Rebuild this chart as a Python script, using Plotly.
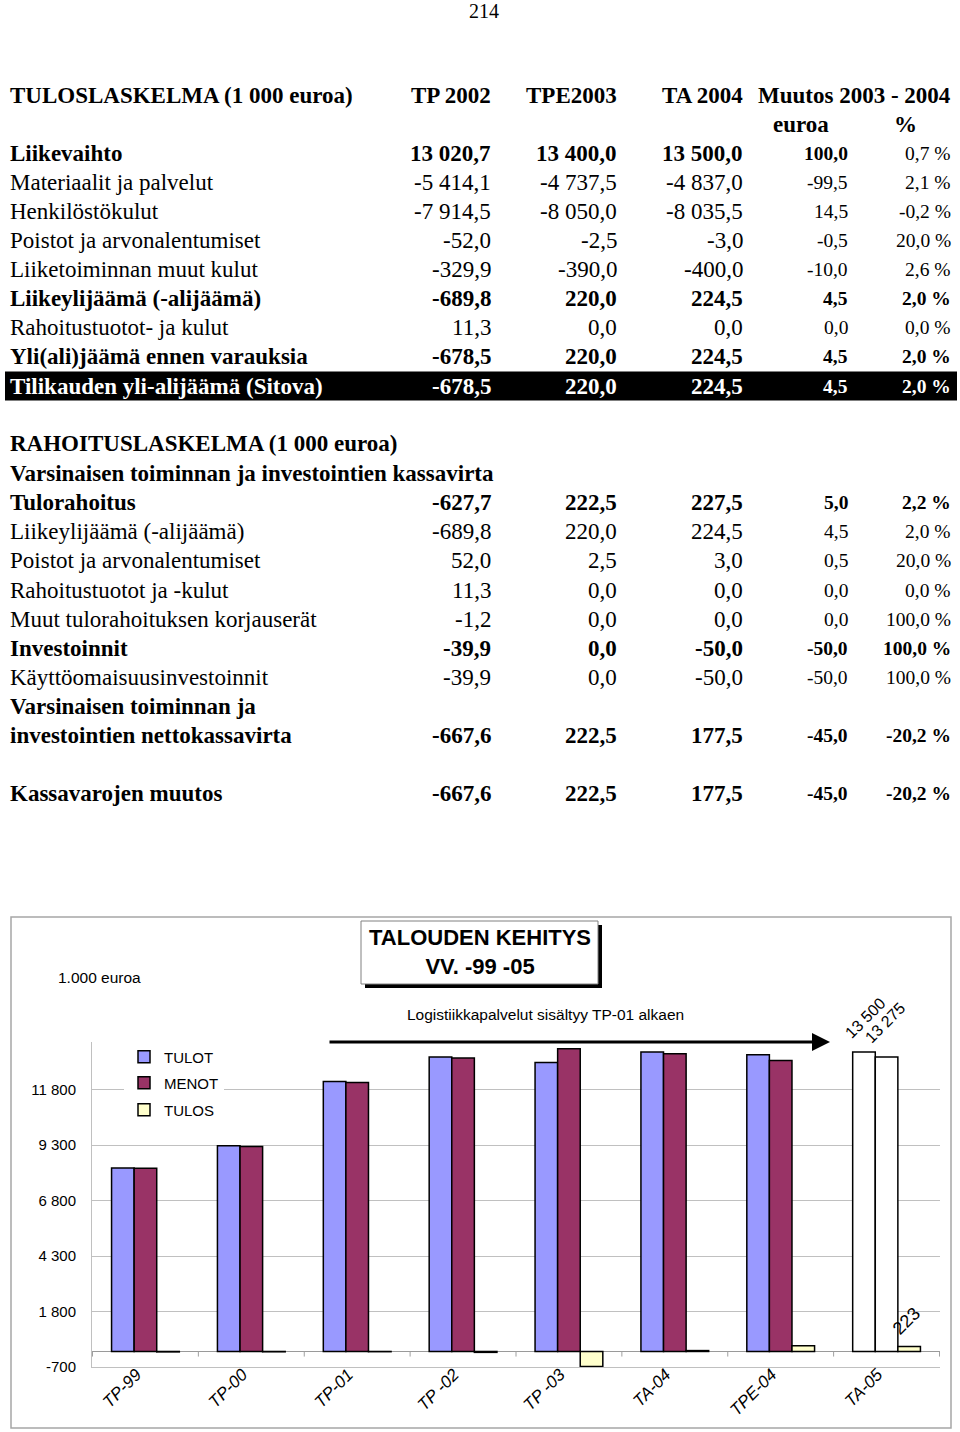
import plotly.graph_objects as go

W, H = 960, 1432

# ------------------------------------------------------------------ data
page_number = "214"

tulos_title = "TULOSLASKELMA (1 000 euroa)"
rahoitus_title = "RAHOITUSLASKELMA (1 000 euroa)"
rahoitus_subtitle = "Varsinaisen toiminnan ja investointien kassavirta"
col_headers = ["TP 2002", "TPE2003", "TA 2004"]
change_header = "Muutos 2003 - 2004"
change_sub = ["euroa", "%"]

tulos_labels = ["Liikevaihto", "Materiaalit ja palvelut", "Henkilöstökulut",
                "Poistot ja arvonalentumiset", "Liiketoiminnan muut kulut",
                "Liikeylijäämä (-alijäämä)", "Rahoitustuotot- ja kulut",
                "Yli(ali)jäämä ennen varauksia", "Tilikauden yli-alijäämä (Sitova)"]
tulos_tp2002 = [13020.7, -5414.1, -7914.5, -52.0, -329.9, -689.8, 11.3, -678.5, -678.5]
tulos_tpe2003 = [13400.0, -4737.5, -8050.0, -2.5, -390.0, 220.0, 0.0, 220.0, 220.0]
tulos_ta2004 = [13500.0, -4837.0, -8035.5, -3.0, -400.0, 224.5, 0.0, 224.5, 224.5]
tulos_chg_eur = [100.0, -99.5, 14.5, -0.5, -10.0, 4.5, 0.0, 4.5, 4.5]
tulos_chg_pct = [0.7, 2.1, -0.2, 20.0, 2.6, 2.0, 0.0, 2.0, 2.0]
tulos_bold = [True, False, False, False, False, True, False, True, True]
tulos_pct_bold = [False, False, False, False, False, True, False, True, True]

rah_labels = ["Tulorahoitus", "Liikeylijäämä (-alijäämä)", "Poistot ja arvonalentumiset",
              "Rahoitustuotot ja -kulut", "Muut tulorahoituksen korjauserät",
              "Investoinnit", "Käyttöomaisuusinvestoinnit",
              "Varsinaisen toiminnan ja\ninvestointien nettokassavirta",
              "Kassavarojen muutos"]
rah_tp2002 = [-627.7, -689.8, 52.0, 11.3, -1.2, -39.9, -39.9, -667.6, -667.6]
rah_tpe2003 = [222.5, 220.0, 2.5, 0.0, 0.0, 0.0, 0.0, 222.5, 222.5]
rah_ta2004 = [227.5, 224.5, 3.0, 0.0, 0.0, -50.0, -50.0, 177.5, 177.5]
rah_chg_eur = [5.0, 4.5, 0.5, 0.0, 0.0, -50.0, -50.0, -45.0, -45.0]
rah_chg_pct = [2.2, 2.0, 20.0, 0.0, 100.0, 100.0, 100.0, -20.2, -20.2]
rah_bold = [True, False, False, False, False, True, False, True, True]
rah_gap_before = [False, False, False, False, False, False, False, False, True]

chart_title = "TALOUDEN KEHITYS<br>VV. -99 -05"
chart_unit = "1.000 euroa"
chart_note = "Logistiikkapalvelut sisältyy TP-01 alkaen"
chart_categories = ["TP-99", "TP-00", "TP-01", "TP -02", "TP -03", "TA-04", "TPE-04", "TA-05"]
chart_tulot = [8270, 9270, 12170, 13270, 13030, 13500, 13380, 13500]
chart_menot = [8260, 9240, 12130, 13230, 13650, 13420, 13120, 13275]
chart_tulos = [-20, -15, -10, -40, -680, 40, 260, 223]
y_ticks = [-700, 1800, 4300, 6800, 9300, 11800]

# ------------------------------------------------------------------ styles
SERIF = "Liberation Serif"
SANS = "Liberation Sans"
C_TULOT, C_MENOT, C_TULOS = "#9999FF", "#993366", "#FFFFCC"
C_FORECAST = "#FFFFFF"


def px(x):
    return x / W


def py(y):
    return 1 - y / H


def fi(v):
    return f"{v:,.1f}".replace(",", " ").replace(".", ",")


def ithousand(v):
    return f"{v:,}".replace(",", " ")


annotations = []
shapes = []


def text(x, y, s, size=23, bold=False, anchor="left", color="black", family=SERIF):
    if bold:
        s = "<b>" + s + "</b>"
    annotations.append(dict(x=px(x), y=py(y), xref="paper", yref="paper", text=s,
                            showarrow=False, xanchor=anchor, yanchor="middle",
                            font=dict(family=family, size=size, color=color)))


# column right edges
LBL_X = 8
COLS = [493, 619, 745]
EUR_X = 850
PCT_X = 953
STEP = 29.1
SMALL = 19.5


def table_row(y, label, vals, eur, pct, bold, pct_bold, color="black"):
    text(LBL_X, y, label, bold=bold, color=color)
    for cx, v in zip(COLS, vals):
        text(cx, y, fi(v), bold=bold, anchor="right", color=color)
    text(EUR_X, y, fi(eur), size=SMALL, bold=bold, anchor="right", color=color)
    text(PCT_X, y, fi(pct) + " %", size=SMALL, bold=pct_bold, anchor="right", color=color)


# page number
text(484, 11, page_number, size=20, anchor="center")

# ---- Tuloslaskelma
y = 95
text(LBL_X, y, tulos_title, bold=True)
for cx, h in zip(COLS, col_headers):
    text(cx, y, h, bold=True, anchor="right")
text(PCT_X, y, change_header, bold=True, anchor="right")
y += STEP
text(801, y, change_sub[0], bold=True, anchor="center")
text(905, y, change_sub[1], bold=True, anchor="center")
n = len(tulos_labels)
for i in range(n):
    y += STEP
    last = i == n - 1
    if last:
        shapes.append(dict(type="rect", xref="paper", yref="paper",
                           x0=px(5), x1=px(957), y0=py(y - 14.5), y1=py(y + 14.5),
                           fillcolor="black", line=dict(width=0), layer="below"))
    table_row(y, tulos_labels[i],
              [tulos_tp2002[i], tulos_tpe2003[i], tulos_ta2004[i]],
              tulos_chg_eur[i], tulos_chg_pct[i], tulos_bold[i], tulos_pct_bold[i],
              color="white" if last else "black")

# ---- Rahoituslaskelma
y = 444
text(LBL_X, y, rahoitus_title, bold=True)
y += STEP + 0.5
text(LBL_X, y, rahoitus_subtitle, bold=True)
for i in range(len(rah_labels)):
    y += STEP
    if rah_gap_before[i]:
        y += STEP
    parts = rah_labels[i].split("\n")
    if len(parts) > 1:
        text(LBL_X, y, parts[0], bold=rah_bold[i])
        y += STEP
    text(LBL_X, y, parts[-1], bold=rah_bold[i])
    for cx, v in zip(COLS, [rah_tp2002[i], rah_tpe2003[i], rah_ta2004[i]]):
        text(cx, y, fi(v), bold=rah_bold[i], anchor="right")
    text(EUR_X, y, fi(rah_chg_eur[i]), size=SMALL, bold=rah_bold[i], anchor="right")
    text(PCT_X, y, fi(rah_chg_pct[i]) + " %", size=SMALL, bold=rah_bold[i], anchor="right")

# ------------------------------------------------------------------ chart
PLOT_L, PLOT_R, PLOT_T, PLOT_B = 92, 940, 1042, 1367
Y_MIN, Y_MAX = -700, 13950

ncat = len(chart_categories)
tulot_colors = [C_TULOT] * (ncat - 1) + [C_FORECAST]
menot_colors = [C_MENOT] * (ncat - 1) + [C_FORECAST]

fig = go.Figure()
fig.add_trace(go.Bar(x=chart_categories, y=chart_tulot, name="TULOT",
                     marker=dict(color=tulot_colors, line=dict(color="black", width=1.5)),
                     legend="legend"))
fig.add_trace(go.Bar(x=chart_categories, y=chart_menot, name="MENOT",
                     marker=dict(color=menot_colors, line=dict(color="black", width=1.5)),
                     legend="legend2"))
fig.add_trace(go.Bar(x=chart_categories, y=chart_tulos, name="TULOS",
                     marker=dict(color=C_TULOS, line=dict(color="black", width=1.5)),
                     legend="legend3"))

# chart frame
shapes.append(dict(type="rect", xref="paper", yref="paper",
                   x0=px(11), x1=px(951), y0=py(1428), y1=py(917),
                   line=dict(color="#a6a6a6", width=1.5), layer="below"))
# title box with shadow
shapes.append(dict(type="rect", xref="paper", yref="paper",
                   x0=px(365), x1=px(602), y0=py(988), y1=py(925),
                   fillcolor="black", line=dict(width=0)))
shapes.append(dict(type="rect", xref="paper", yref="paper",
                   x0=px(361), x1=px(598), y0=py(984), y1=py(921),
                   fillcolor="white", line=dict(color="#808080", width=1)))
annotations.append(dict(x=px(480), y=py(952), xref="paper", yref="paper",
                        text="<b>" + chart_title + "</b>", showarrow=False,
                        xanchor="center", yanchor="middle",
                        font=dict(family=SANS, size=22, color="black")))
text(99, 978, chart_unit, size=15.5, anchor="center", family=SANS)
text(545, 1014, chart_note, size=15.5, anchor="center", family=SANS)
# arrow
annotations.append(dict(x=px(830), y=py(1042), xref="paper", yref="paper",
                        ax=-502, ay=0, axref="pixel", ayref="pixel", text="",
                        showarrow=True, arrowhead=2, arrowsize=1.2, arrowwidth=3,
                        arrowcolor="black"))

# category boundary ticks on the zero line
for i in range(ncat + 1):
    shapes.append(dict(type="line", xref="x", yref="y", x0=i - 0.5, x1=i - 0.5,
                       y0=0, y1=-230, line=dict(color="#a0a0a0", width=1)))

# value labels for the last category
BAR_W = 848 / ncat * (1 - 0.36) / 3
for val, off, ys, fs in [(chart_tulot[-1], -BAR_W + 2, 34, 16), (chart_menot[-1], -1, 34, 16),
                         (chart_tulos[-1], BAR_W - 3, 26, 18)]:
    annotations.append(dict(x=chart_categories[-1], y=val, xref="x", yref="y",
                            text=ithousand(val), showarrow=False, textangle=-45,
                            xanchor="center", yanchor="middle", xshift=off, yshift=ys,
                            font=dict(family=SANS, size=fs, color="black")))

leg_common = dict(x=px(124), xanchor="left", yanchor="middle", bgcolor="white",
                  borderwidth=0, font=dict(family=SANS, size=15, color="black"))

fig.update_layout(
    width=W, height=H, template="none",
    margin=dict(l=0, r=0, t=0, b=0),
    paper_bgcolor="white", plot_bgcolor="white",
    barmode="group", bargap=0.36, bargroupgap=0,
    showlegend=True, hovermode=False,
    legend=dict(y=py(1057), **leg_common),
    legend2=dict(y=py(1083), **leg_common),
    legend3=dict(y=py(1110), **leg_common),
    xaxis=dict(domain=[px(PLOT_L), px(PLOT_R)], type="category",
               tickangle=-45, showgrid=False, zeroline=False,
               showline=True, linecolor="#c0c0c0", linewidth=1, ticks="",
               ticklabelstandoff=-10, ticklabelshift=-9,
               tickfont=dict(family=SANS, size=17, color="black", style="italic"),
               automargin=False),
    yaxis=dict(domain=[py(PLOT_B), py(PLOT_T)], range=[Y_MIN, Y_MAX],
               tickvals=y_ticks, ticktext=[ithousand(v) for v in y_ticks],
               showgrid=True, gridcolor="#c0c0c0", gridwidth=1,
               zeroline=True, zerolinecolor="#9a9a9a", zerolinewidth=1,
               showline=True, linecolor="#c0c0c0", linewidth=1, ticks="",
               ticklabelstandoff=12,
               tickfont=dict(family=SANS, size=15, color="black"),
               automargin=False),
    shapes=shapes,
    annotations=annotations,
)

fig.write_html("out.html", config={"displayModeBar": False},
               post_script="document.body.style.margin='0';")
